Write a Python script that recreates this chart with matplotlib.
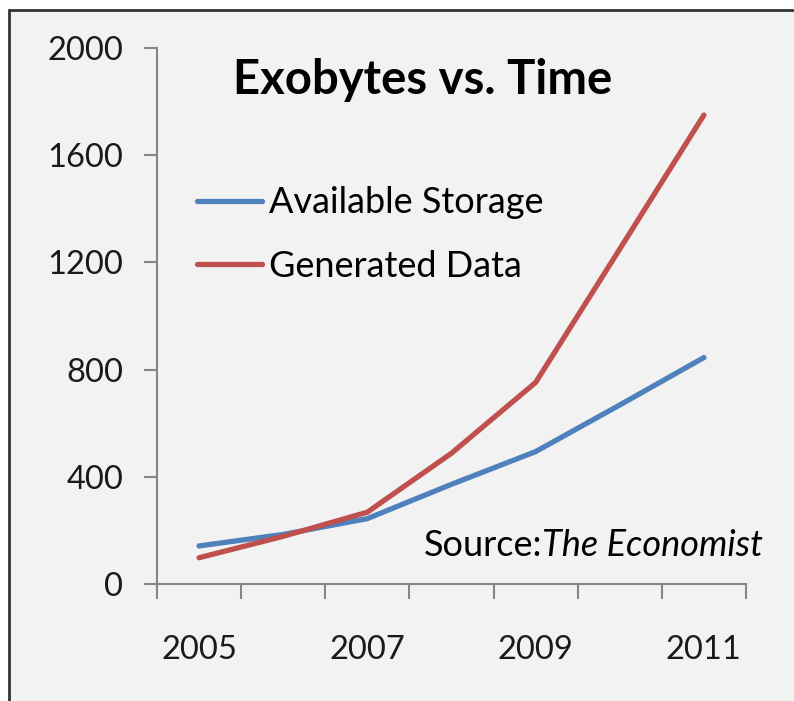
import matplotlib
matplotlib.use('Agg')
import matplotlib.pyplot as plt
from matplotlib.patches import Rectangle

# Data
years = [2005, 2006, 2007, 2008, 2009, 2010, 2011]
storage = [142, 185, 244, 372, 494, 668, 845]
generated = [98, 178, 268, 488, 752, 1250, 1750]
y_ticks = [0, 400, 800, 1200, 1600, 2000]
x_labels = ['2005', '2007', '2009', '2011']

plt.rcParams['font.family'] = ['Lato', 'DejaVu Sans']

fig = plt.figure(figsize=(7.94, 7.01), dpi=100)
fig.patch.set_facecolor('white')

# chart area frame
fig.patches.append(Rectangle((9 / 794, -0.05), 1.0, 1 - 10 / 701 + 0.05,
                             transform=fig.transFigure, facecolor='#f2f2f2',
                             edgecolor='#333333', linewidth=2, zorder=-5))

ax = fig.add_axes([157 / 794, 1 - 584 / 701, (746 - 157) / 794, (584 - 48) / 701])
ax.set_facecolor('none')
ax.set_zorder(2)

pos = list(range(1, len(years) + 1))
ax.plot(pos, storage, color='#4f81bd', lw=3.8, solid_capstyle='round',
        label='Available Storage')
ax.plot(pos, generated, color='#c0504d', lw=3.8, solid_capstyle='round',
        label='Generated Data')

ax.set_xlim(0.5, len(years) + 0.5)
ax.set_ylim(0, 2000)

axis_col = '#868686'
for s in ['top', 'right']:
    ax.spines[s].set_visible(False)
for s in ['left', 'bottom']:
    ax.spines[s].set_color(axis_col)
    ax.spines[s].set_linewidth(1.5)

ax.set_yticks(y_ticks)
ax.set_yticklabels([str(v) for v in y_ticks])
ax.tick_params(axis='y', direction='out', length=9.4, width=1.5, color=axis_col,
               labelsize=23.5, pad=15, labelcolor='#1a1a1a')

# tick marks between categories, labels on every other category
ax.set_xticks([p + 0.5 for p in range(0, len(years) + 1)])
ax.set_xticklabels([])
ax.tick_params(axis='x', which='major', direction='out', length=11, width=1.5,
               color=axis_col)
ax.set_xticks([pos[0], pos[2], pos[4], pos[6]], minor=True)
ax.set_xticklabels(x_labels, minor=True)
ax.tick_params(axis='x', which='minor', length=0, labelsize=23.5, pad=37,
               labelcolor='#1a1a1a')

ax.text(0.129, 0.94, 'Exobytes vs. Time', transform=ax.transAxes,
        fontsize=34, fontweight='bold', va='center', ha='left')

leg = ax.legend(loc='upper left', bbox_to_anchor=(0.068, 0.742), frameon=False,
                fontsize=26, handlelength=1.8, handletextpad=0.2,
                labelspacing=0.85, borderaxespad=0, borderpad=0)

src = ax.text(0.453, 0.071, 'Source:', transform=ax.transAxes, fontsize=26,
              va='center', ha='left')
ax.annotate('The Economist', xy=(1.0, 0.5), xycoords=src, fontsize=26,
            style='italic', va='center', ha='left')

fig.savefig('out.png', dpi=100)
